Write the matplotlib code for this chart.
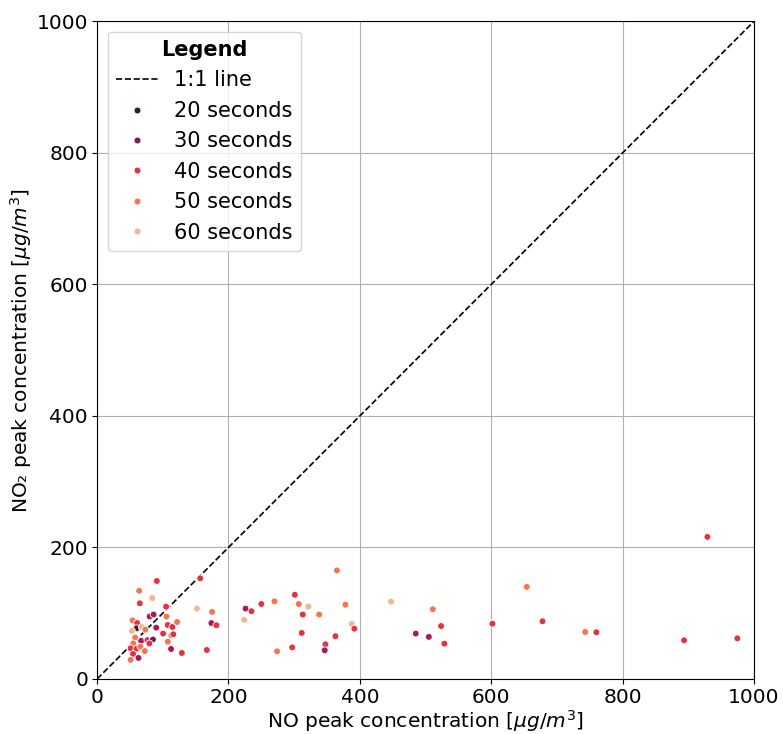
import matplotlib
matplotlib.use("Agg")
import matplotlib.pyplot as plt
from matplotlib.lines import Line2D

# Data: NO peak (x), NO2 peak (y), duration in seconds (hue)
no_peak = [90.9, 157, 64, 65, 84, 105, 152, 175, 80, 86, 54, 61, 60, 53, 68, 73.5, 90,
           105.5, 107.5, 114.6, 121.8, 174, 181.6, 100.5, 113, 116, 67, 76.6, 85, 79.6,
           58, 55, 51, 60, 66, 72.6, 54.8, 51, 63, 107.6, 112.6, 129, 167,
           365, 301, 226, 235, 250, 270, 307, 321.6, 313, 338, 378, 447.5, 511, 224,
           311.5, 387.6, 391.6, 362.8, 297, 274, 347.5, 346.5, 485, 505, 523.6, 528.6,
           929, 654, 601.7, 678, 743, 760, 893.5, 974.6]
no2_peak = [149, 153, 134, 115, 123, 110, 107, 102, 95, 98, 89, 85, 77, 73, 79, 75, 78,
            95, 82, 79, 86.6, 85, 81.6, 69, 66, 68, 58, 59, 60, 54,
            63, 54, 46.6, 46, 49, 42.5, 38, 29, 32, 56.7, 45.6, 39.5, 44,
            165, 128, 107, 103, 114, 118, 114, 110, 98, 98, 113, 117.5, 106, 90,
            70, 83.6, 76.5, 65, 48, 42, 52.7, 43.6, 69, 64, 80.5, 53.7,
            216, 140, 84, 87.7, 71.4, 71, 58.8, 61.8]
duration = [40, 40, 50, 40, 60, 40, 60, 50, 35, 35, 50, 40, 20, 60, 60, 50, 35,
            50, 40, 40, 50, 35, 40, 40, 50, 40, 35, 40, 30, 40,
            50, 50, 40, 40, 50, 50, 40, 50, 35, 50, 35, 40, 40,
            50, 40, 35, 40, 40, 50, 50, 60, 40, 50, 50, 60, 50, 60,
            40, 60, 40, 40, 40, 50, 40, 35, 35, 35, 40, 40,
            40, 50, 40, 40, 50, 40, 40, 40]

levels = [20, 30, 35, 40, 50, 60]
level_colors = ['#35193e', '#701f57', '#ad1759', '#e13342', '#f37651', '#f6b48f']
legend_levels = [20, 30, 40, 50, 60]
legend_labels = ["20 seconds", "30 seconds", "40 seconds", "50 seconds", "60 seconds"]

cmap = dict(zip(levels, level_colors))

fig = plt.figure(figsize=(7.83, 7.34), dpi=100)
ax = fig.add_axes([0.124, 0.075, 0.839, 0.896])

ax.grid(True, color='#b0b0b0', linewidth=0.8, zorder=0)
ax.set_axisbelow(True)

ax.plot([0, 1000], [0, 1000], linestyle='--', color='black', linewidth=1.2, zorder=2)
ax.scatter(no_peak, no2_peak, c=[cmap[d] for d in duration], s=24,
           edgecolors='white', linewidths=0.6, zorder=3)

ax.set_xlim(0, 1000)
ax.set_ylim(0, 1000)
ax.set_xticks([0, 200, 400, 600, 800, 1000])
ax.set_yticks([0, 200, 400, 600, 800, 1000])
ax.tick_params(labelsize=14.5, pad=3)
ax.set_xlabel(r"NO peak concentration [$\mu g/m^3$]", fontsize=14.5, labelpad=1)
ax.set_ylabel(r"NO₂ peak concentration [$\mu g/m^3$]", fontsize=14.5, labelpad=2)
for sp in ax.spines.values():
    sp.set_color('black')

handles = [Line2D([0], [0], linestyle='--', color='black', linewidth=1.2)]
labels = ["1:1 line"]
for lv, lb in zip(legend_levels, legend_labels):
    handles.append(Line2D([0], [0], marker='o', linestyle='', markersize=5,
                          markerfacecolor=cmap[lv], markeredgecolor='white',
                          markeredgewidth=0.6))
    labels.append(lb)
leg = ax.legend(handles, labels, loc='upper left', fontsize=15, title="Legend",
                title_fontproperties={'weight': 'bold', 'size': 15})

fig.savefig("out.png", dpi=100)
